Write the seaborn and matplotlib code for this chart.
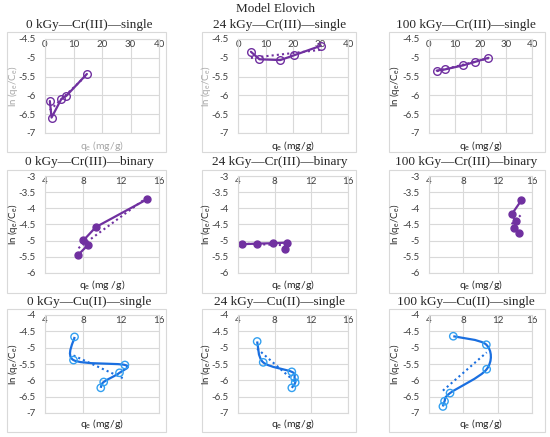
import numpy as np
import seaborn as sns
from matplotlib import pyplot as plt
from matplotlib.path import Path
from matplotlib.patches import PathPatch, Rectangle

# values
cr0_single_x = [1.7, 2.3, 5.7, 7.5, 14.7]
cr0_single_y = [-6.15, -6.59, -6.10, -6.01, -5.43]
cr24_single_x = [4.7, 7.8, 15.4, 20.5, 30.1]
cr24_single_y = [-4.84, -5.04, -5.06, -4.93, -4.68]
cr100_single_x = [3.0, 6.1, 13.3, 17.8, 23.1]
cr100_single_y = [-5.34, -5.31, -5.20, -5.11, -5.00]

cr0_binary_x = [7.52, 8.5, 8.05, 9.35, 14.74]
cr0_binary_y = [-5.43, -5.14, -4.99, -4.58, -3.72]
cr24_binary_x = [4.48, 6.12, 7.77, 9.35, 9.09]
cr24_binary_y = [-5.11, -5.09, -5.08, -5.06, -5.27]
cr100_binary_x = [14.77, 13.62, 14.12, 13.88, 14.5]
cr100_binary_y = [-3.75, -4.19, -4.40, -4.62, -4.75]

cu0_x = [7.11, 7.0, 12.41, 11.84, 10.18, 9.87]
cu0_y = [-4.67, -5.38, -5.53, -5.77, -6.05, -6.23]
cu24_x = [6.09, 6.75, 9.87, 10.17, 10.24, 9.87]
cu24_y = [-4.81, -5.45, -5.74, -5.92, -6.07, -6.23]
cu100_x = [6.83, 10.68, 10.72, 6.45, 5.81, 5.62]
cu100_y = [-4.65, -4.91, -5.66, -6.39, -6.64, -6.80]

titles = [
    ["0 kGy\u2014Cr(III)\u2014single", "24 kGy\u2014Cr(III)\u2014single", "100 kGy\u2014Cr(III)\u2014single"],
    ["0 kGy\u2014Cr(III)\u2014binary", "24 kGy\u2014Cr(III)\u2014binary", "100 kGy\u2014Cr(III)\u2014binary"],
    ["0 kGy\u2014Cu(II)\u2014single", "24 kGy\u2014Cu(II)\u2014single", "100 kGy\u2014Cu(II)\u2014single"],
]
xlabels = [
    ["q$_e$ (mg/g)", "q$_e$ (mg/g)", "q$_e$ (mg/g)"],
    ["q$_e$ (mg /g)", "q$_e$ (mg/g)", "q$_e$ (mg/g)"],
    ["q$_e$ (mg/g)", "q$_e$ (mg/g)", "q$_e$ (mg/g)"],
]
ylabel = "ln (q$_e$/C$_e$)"

row_xticks = [[0, 10, 20, 30, 40], [4, 8, 12, 16], [4, 8, 12, 16]]
row_yticks = [[-7, -6.5, -6, -5.5, -5, -4.5],
              [-6, -5.5, -5, -4.5, -4, -3.5, -3],
              [-7, -6.5, -6, -5.5, -5, -4.5, -4]]

data = [
    [(cr0_single_x, cr0_single_y), (cr24_single_x, cr24_single_y), (cr100_single_x, cr100_single_y)],
    [(cr0_binary_x, cr0_binary_y), (cr24_binary_x, cr24_binary_y), (cr100_binary_x, cr100_binary_y)],
    [(cu0_x, cu0_y), (cu24_x, cu24_y), (cu100_x, cu100_y)],
]

purple = "#7030A0"
blue_line = "#1a6fe0"
blue_mark = "#33a0f0"
grid_c = "#d9d9d9"
grey_txt = "#a6a6a6"

sns.set_style("white")
plt.rcParams["font.family"] = ["Lato", "DejaVu Sans"]
plt.rcParams["axes.unicode_minus"] = False
plt.rcParams["mathtext.fontset"] = "custom"
plt.rcParams["mathtext.rm"] = "Lato"
plt.rcParams["mathtext.it"] = "Lato"

W, H = 550, 437
fig = plt.figure(figsize=(5.5, 4.37), dpi=100)

cols_plot = [(45, 159), (238, 348), (429, 532)]
rows_plot = [(39, 133), (176, 273), (315, 413)]
cols_box = [(7, 166), (202, 356), (389, 545)]
rows_box = [(32, 152), (170, 293), (309, 432)]
title_x = [89, 280, 466]
title_y = [25, 162, 302]
xlabel_y = [146, 285, 424]
ylabel_x = [13, 206, 395]
serif = ["Liberation Serif", "DejaVu Serif"]


def smooth_path(xs, ys):
    # Excel style smoothed line through the points (cubic Bezier segments)
    p = np.column_stack([xs, ys])
    n = len(p)
    verts = [p[0]]
    codes = [Path.MOVETO]
    for i in range(n - 1):
        p0 = p[i - 1] if i > 0 else p[i]
        p3 = p[i + 2] if i + 2 < n else p[i + 1]
        c1 = p[i] + (p[i + 1] - p0) / 6
        c2 = p[i + 1] - (p3 - p[i]) / 6
        verts += [c1, c2, p[i + 1]]
        codes += [Path.CURVE4] * 3
    return Path(verts, codes)


fig.text(0.5, 1 - 9 / H, "Model Elovich", ha="center", va="center",
         fontsize=9.5, family=serif)

for r in range(3):
    for c in range(3):
        bx0, bx1 = cols_box[c]
        by0, by1 = rows_box[r]
        fig.patches.append(Rectangle((bx0 / W, 1 - by1 / H), (bx1 - bx0) / W, (by1 - by0) / H,
                                     transform=fig.transFigure, fill=False,
                                     edgecolor=grid_c, lw=0.8))
        x0, x1 = cols_plot[c]
        y0, y1 = rows_plot[r]
        ax = fig.add_axes([x0 / W, 1 - y1 / H, (x1 - x0) / W, (y1 - y0) / H])
        xs, ys = data[r][c]

        if r < 2:
            filled = r == 1
            sns.lineplot(x=xs, y=ys, sort=False, estimator=None, ax=ax, color=purple,
                         lw=1.6, marker="o", markersize=5 if filled else 5.5,
                         markerfacecolor=purple if filled else "none",
                         markeredgecolor=purple, markeredgewidth=1.0)
            tcol = purple
        else:
            ax.add_patch(PathPatch(smooth_path(xs, ys), fill=False, edgecolor=blue_line,
                                   lw=1.6, zorder=3))
            sns.scatterplot(x=xs, y=ys, ax=ax, s=28, facecolor="none",
                            edgecolor=blue_mark, linewidth=1.0, zorder=4)
            tcol = blue_line
        sns.regplot(x=np.array(xs), y=np.array(ys), ax=ax, scatter=False, ci=None,
                    line_kws=dict(color=tcol, ls=(0, (1, 1.5)), lw=1.5))

        xt = row_xticks[r]
        yt = row_yticks[r]
        ax.set_xlim(xt[0], xt[-1])
        ax.set_ylim(yt[0], yt[-1])
        ax.set_xticks(xt)
        ax.set_yticks(yt)
        ax.set_xticklabels([f"{v:g}" for v in xt])
        ax.set_yticklabels([f"{v:g}" for v in yt])
        ax.set_xlabel("")
        ax.set_ylabel("")
        ax.grid(True, color=grid_c, lw=0.8)
        ax.set_axisbelow(True)
        for s in ax.spines.values():
            s.set_color(grid_c)
            s.set_linewidth(0.8)
        ax.tick_params(axis="x", bottom=False, top=False, labelbottom=False, labeltop=True,
                       pad=-11, labelsize=7, colors="#404040")
        ax.tick_params(axis="y", left=False, pad=3, labelsize=7, colors="#404040")

        fig.text(title_x[c] / W, 1 - title_y[r] / H, titles[r][c], ha="center",
                 va="center", fontsize=9.5, family=serif)

        grey_y = r == 0 and c < 2
        grey_x = r == 0 and c == 0
        fig.text((x0 + x1) / 2 / W, 1 - xlabel_y[r] / H, xlabels[r][c], ha="center",
                 va="center", fontsize=7.5, color=grey_txt if grey_x else "#262626")
        fig.text(ylabel_x[c] / W, 1 - (y0 + y1) / 2 / H, ylabel, ha="center", va="center",
                 rotation=90, fontsize=7, color=grey_txt if grey_y else "#262626")

fig.savefig("out.png", dpi=100)
